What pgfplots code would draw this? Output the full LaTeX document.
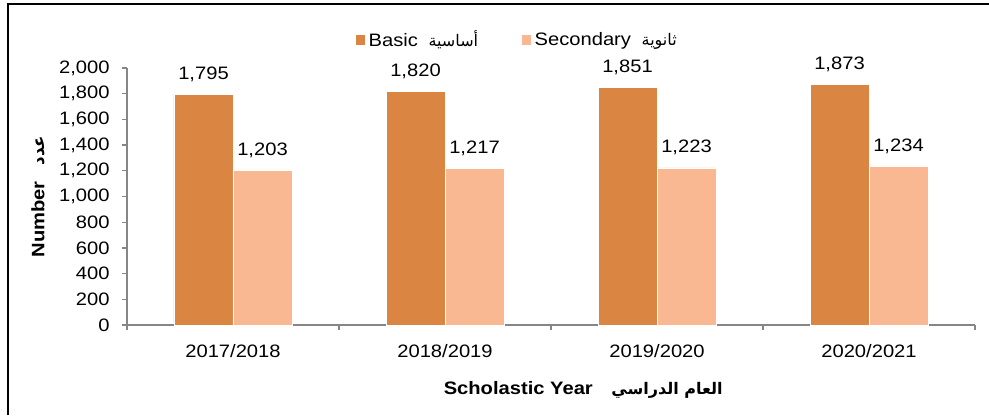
\documentclass[border=0pt]{standalone}
\usepackage{pgfplots}
\pgfplotsset{compat=1.18}
\usepackage{fontspec}
\setmainfont{Liberation Sans}[FakeStretch=1.12]
\newfontfamily\arabicfont[Script=Arabic]{DejaVu Sans}
\TeXXeTstate=1
\definecolor{basic}{RGB}{218,134,66}
\definecolor{second}{RGB}{250,184,146}
\definecolor{axgray}{RGB}{134,134,134}
\begin{document}
\begin{tikzpicture}[x=0.75pt,y=0.75pt]
\begin{axis}[
  scale only axis, width=636pt, height=192.75pt,
  ybar=0pt, bar width=44.25pt,
  xmin=-0.5, xmax=3.5, ymin=0, ymax=2000,
  xtick={0,1,2,3}, xticklabels={2017/2018,2018/2019,2019/2020,2020/2021},
  minor xtick={-0.5,0.5,1.5,2.5,3.5},
  ytick={0,200,...,2000},
  axis x line*=bottom, axis y line*=left,
  axis line style={-, axgray, line width=1pt},
  major x tick style={draw=none},
  minor x tick style={axgray, line width=1pt},
  y tick style={axgray, line width=1pt},
  tick align=outside, major tick length=4pt, minor tick length=4pt,
  tick label style={font=\fontsize{13.5}{16}\selectfont},
  /pgf/number format/assume math mode=true,
  /pgf/number format/1000 sep={,},
  yticklabel style={xshift=-5.5pt},
  xticklabel style={yshift=-7pt},
  nodes near coords,
  every node near coord/.append style={font=\fontsize{13.5}{16}\selectfont, yshift=6pt, /pgf/number format/assume math mode=true, /pgf/number format/1000 sep={,}},
  xlabel={\textbf{Scholastic Year}\hspace{14pt}{\arabicfont\bfseries\fontsize{12}{14}\selectfont\beginR العام الدراسي\endR}},
  xlabel style={at={(axis description cs:0.538,-0.253)}, anchor=center, font=\fontsize{13.5}{16}\selectfont},
  ylabel={\textbf{Number}\hspace{12pt}{\arabicfont\bfseries\fontsize{12.5}{14}\selectfont\beginR عدد\endR}},
  ylabel style={at={(axis description cs:-0.105,0.5)}, anchor=center, font=\fontsize{13.5}{16}\selectfont},
  legend style={at={(0.46,1.109)}, anchor=center, draw=none, legend columns=2,
    font=\fontsize{13.5}{16}\selectfont,
    /tikz/every even column/.append style={column sep=30pt}},
  legend image code/.code={\fill[#1] (0pt,-4pt) rectangle (8pt,4pt);},
  legend cell align=left,
]
\coordinate (sw) at (rel axis cs:0,0);
\addplot[fill=basic, draw=white, line width=0.4pt] coordinates {(0,1795) (1,1820) (2,1851) (3,1873)};
\addplot[fill=second, draw=white, line width=0.4pt] coordinates {(0,1203) (1,1217) (2,1223) (3,1234)};
\legend{{Basic\hspace{8pt}{\arabicfont\fontsize{12}{14}\selectfont\beginR أساسية\endR}},{Secondary\hspace{8pt}{\arabicfont\fontsize{12}{14}\selectfont\beginR ثانوية\endR}}}
\end{axis}
\pgfresetboundingbox
\useasboundingbox ([shift={(-127,-90)}]sw) rectangle ([shift={(862,325)}]sw);
\draw[line width=1.5pt, black] ([shift={(-119,-90)}]sw) -- ([shift={(-119,321.3)}]sw) -- ([shift={(862,321.3)}]sw);
\end{tikzpicture}
\end{document}
